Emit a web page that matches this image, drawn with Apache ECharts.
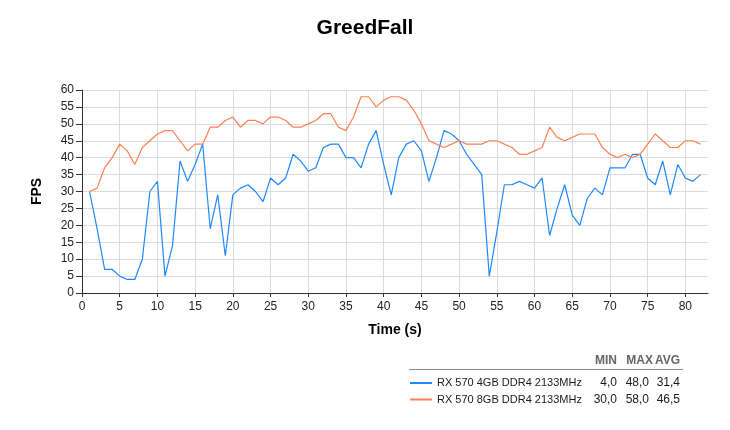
<!DOCTYPE html>
<html><head><meta charset="utf-8">
<script src="https://cdn.jsdelivr.net/npm/echarts@6/dist/echarts.min.js"></script>
<style>html,body{margin:0;padding:0;background:#fff}#c{width:730px;height:430px}</style>
</head><body><div id="c"></div>
<script>
const chartTitle = 'GreedFall';
const seriesNames = ['RX 570 4GB DDR4 2133MHz', 'RX 570 8GB DDR4 2133MHz'];
const seriesColors = ['#1E88FF', '#FF8050'];
const times = [1,2,3,4,5,6,7,8,9,10,11,12,13,14,15,16,17,18,19,20,21,22,23,24,25,26,27,28,29,30,31,32,33,34,35,36,37,38,39,40,41,42,43,44,45,46,47,48,49,50,51,52,53,54,55,56,57,58,59,60,61,62,63,64,65,66,67,68,69,70,71,72,73,74,75,76,77,78,79,80,81,82];
const fps4gb = [30,19,7,7,5,4,4,10,30,33, 5,14,39,33,38,44,19,29,11,29, 31,32,30,27,34,32,34,41,39,36, 37,43,44,44,40,40,37,44,48,38, 29,40,44,45,42,33,40,48,47,45, 41,38,35,5,18,32,32,33,32,31, 34,17,25,32,23,20,28,31,29,37, 37,37,41,41,34,32,39,29,38,34, 33,35];
const fps8gb = [30,31,37,40,44,42,38,43,45,47, 48,48,45,42,44,44,49,49,51,52, 49,51,51,50,52,52,51,49,49,50, 51,53,53,49,48,52,58,58,55,57, 58,58,57,54,50,45,44,43,44,45, 44,44,44,45,45,44,43,41,41,42, 43,49,46,45,46,47,47,47,43,41, 40,41,40,41,44,47,45,43,43,45, 45,44];
const statHeaders = ['MIN', 'MAX', 'AVG'];
const stats4gb = ['4,0', '48,0', '31,4'];
const stats8gb = ['30,0', '58,0', '46,5'];

const FONT = '"Liberation Sans", Arial, sans-serif';
const chart = echarts.init(document.getElementById('c'));

const allSeriesData = [fps4gb, fps8gb];
const allStats = [stats4gb, stats8gb];
const statX = [617, 649, 680];
const headerX = [617, 653, 680];
const rowY = [383, 399.5];

const graphics = [];
statHeaders.forEach((h, i) => {
  graphics.push({type: 'text', x: headerX[i], y: 361, style: {text: h, align: 'right', verticalAlign: 'middle', font: 'bold 12px ' + FONT, fill: '#666666'}});
});
graphics.push({type: 'line', shape: {x1: 409, y1: 369.5, x2: 683, y2: 369.5}, style: {stroke: '#8a8a8a', lineWidth: 1}});
allStats.forEach((row, r) => {
  row.forEach((v, i) => {
    graphics.push({type: 'text', x: statX[i], y: rowY[r], style: {text: v, align: 'right', verticalAlign: 'middle', font: '12px ' + FONT, fill: '#1a1a1a'}});
  });
});

chart.setOption({
  animation: false,
  backgroundColor: '#ffffff',
  title: {text: chartTitle, left: 'center', top: 13, textStyle: {fontFamily: FONT, fontSize: 21, fontWeight: 'bold', color: '#000'}},
  grid: {left: 82, right: 22, top: 90, bottom: 137, containLabel: false},
  legend: {
    orient: 'vertical', left: 410, top: 376, padding: 0, itemGap: 2.5,
    itemWidth: 22, itemHeight: 2, icon: 'rect', selectedMode: false,
    textStyle: {fontFamily: FONT, fontSize: 11, color: '#1a1a1a', lineHeight: 14, padding: [0,0,0,0]},
    data: seriesNames
  },
  xAxis: {
    type: 'value', min: 0, max: 83, interval: 5,
    name: 'Time (s)', nameLocation: 'middle', nameGap: 30,
    nameTextStyle: {fontFamily: FONT, fontSize: 14, fontWeight: 'bold', color: '#000'},
    axisLine: {lineStyle: {color: '#333', width: 1}},
    axisTick: {show: true, length: 4, lineStyle: {color: '#333'}},
    axisLabel: {showMaxLabel: false, margin: 8, fontFamily: FONT, fontSize: 12, color: '#222'},
    splitLine: {show: true, showMaxLine: false, lineStyle: {color: '#dcdcdc', width: 1}}
  },
  yAxis: {
    type: 'value', min: 0, max: 60, interval: 5,
    name: 'FPS', nameLocation: 'middle', nameGap: 38, nameRotate: 90,
    nameTextStyle: {fontFamily: FONT, fontSize: 14, fontWeight: 'bold', color: '#000'},
    axisLine: {show: true, lineStyle: {color: '#333', width: 1}},
    axisTick: {show: true, length: 6, lineStyle: {color: '#333'}},
    axisLabel: {margin: 8, fontFamily: FONT, fontSize: 12, color: '#222'},
    splitLine: {show: true, lineStyle: {color: '#dcdcdc', width: 1}}
  },
  series: seriesNames.map((n, i) => ({
    name: n, type: 'line', showSymbol: false, symbol: 'none',
    color: seriesColors[i],
    lineStyle: {width: 1.2, color: seriesColors[i]},
    data: times.map((t, k) => [t, allSeriesData[i][k]])
  })),
  graphic: graphics
});
</script>
</body></html>
